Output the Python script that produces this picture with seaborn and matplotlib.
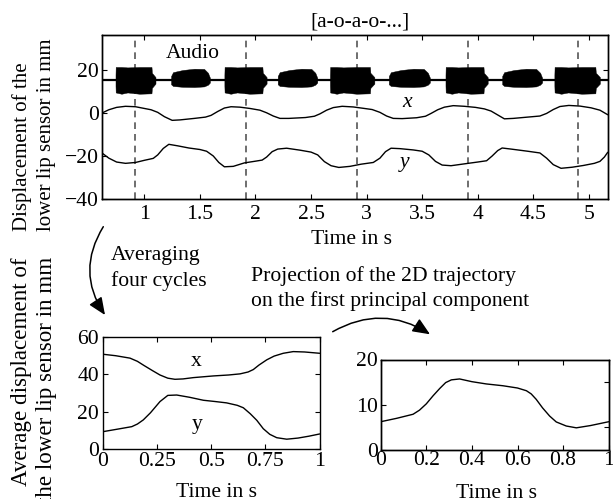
import numpy as np
import matplotlib
matplotlib.use("Agg")
import matplotlib.pyplot as plt
import seaborn as sns
from matplotlib.patches import FancyArrowPatch

# ---- data ----
# top panel: raw lip sensor trajectories (time in s, displacement in mm)
lip_t = [0.623, 0.68, 0.75, 0.83, 0.92, 1.00, 1.06, 1.12, 1.18, 1.25, 1.32, 1.45, 1.55, 1.60,
         1.66, 1.72, 1.78, 1.86, 1.95, 2.04, 2.10, 2.16, 2.22, 2.30, 2.45, 2.53, 2.58, 2.64,
         2.70, 2.78, 2.88, 2.98, 3.05, 3.12, 3.18, 3.24, 3.32, 3.45, 3.53, 3.58, 3.64, 3.70,
         3.78, 3.88, 3.98, 4.06, 4.12, 4.18, 4.24, 4.32, 4.45, 4.56, 4.62, 4.68, 4.74, 4.82,
         4.92, 5.02, 5.10, 5.17]
lip_x = [0.0, 1.4, 2.5, 3.0, 2.8, 2.0, 1.4, 0.2, -1.8, -3.5, -3.3, -2.6, -2.0, -1.2,
         0.6, 2.2, 2.8, 2.6, 2.0, 1.2, 0.0, -1.5, -2.6, -2.6, -2.2, -1.6, -0.5, 1.2,
         2.4, 3.0, 2.7, 2.0, 1.5, 0.2, -1.5, -2.6, -2.7, -2.3, -1.6, -0.3, 1.4, 2.6,
         3.3, 3.0, 2.5, 1.8, 0.8, -1.0, -2.8, -2.6, -2.0, -1.5, -0.3, 1.5, 2.9, 3.4,
         3.1, 2.3, 1.2, -0.9]

lip_ty = [0.623, 0.68, 0.75, 0.83, 0.92, 1.00, 1.08, 1.12, 1.17, 1.22, 1.30, 1.40, 1.50, 1.56,
          1.62, 1.67, 1.72, 1.80, 1.90, 2.00, 2.06, 2.10, 2.15, 2.20, 2.28, 2.40, 2.50, 2.56,
          2.62, 2.68, 2.75, 2.85, 2.95, 3.06, 3.12, 3.17, 3.22, 3.30, 3.42, 3.50, 3.56, 3.62,
          3.68, 3.76, 3.90, 4.00, 4.08, 4.13, 4.18, 4.22, 4.30, 4.45, 4.56, 4.62, 4.68, 4.75,
          4.85, 4.95, 5.05, 5.10, 5.14, 5.17]
lip_y = [-18.8, -21.0, -22.8, -23.4, -23.0, -22.0, -21.1, -19.5, -16.5, -14.6, -15.3, -16.3, -17.0, -17.8,
         -20.0, -23.0, -25.0, -24.8, -23.2, -22.4, -21.9, -20.5, -18.0, -16.8, -16.4, -17.3, -18.2, -19.5,
         -22.6, -24.5, -25.3, -24.8, -23.8, -23.0, -21.0, -18.0, -16.4, -16.6, -17.2, -17.8, -19.5, -22.5,
         -24.2, -24.5, -23.5, -22.8, -22.2, -20.0, -17.5, -16.3, -16.8, -17.8, -18.6, -21.0, -24.0, -25.7,
         -25.2, -24.4, -23.4, -22.5, -20.5, -18.3]

cycle_marks = [0.915, 1.915, 2.91, 3.91, 4.905]

# audio bursts: onset, offset, vowel
audio_on = [0.74, 1.24, 1.72, 2.20, 2.67, 3.20, 3.71, 4.22, 4.69]
audio_off = [1.10, 1.59, 2.10, 2.556, 3.07, 3.57, 4.09, 4.58, 5.10]
audio_kind = ["a", "o", "a", "o", "a", "o", "a", "o", "a"]
audio_base = 15.0
# envelope of each vowel: fraction of burst, upper, lower
env_frac = {"a": [0.0, 0.005, 0.15, 0.30, 0.60, 0.90, 0.91, 1.0],
            "o": [0.0, 0.05, 0.30, 0.60, 0.85, 0.95, 1.0, 1.0]}
env_up = {"a": [17.5, 21.2, 21.2, 21.0, 21.2, 21.2, 18.5, 16.5],
          "o": [17.0, 18.8, 19.8, 20.4, 20.3, 18.5, 16.2, 16.2]}
env_lo = {"a": [12.5, 9.4, 8.8, 9.4, 8.8, 9.0, 11.5, 13.5],
          "o": [13.2, 12.4, 12.0, 11.9, 12.2, 13.0, 14.0, 14.0]}

# bottom left: averaged cycle
avg_t = [0.00, 0.06, 0.126, 0.16, 0.19, 0.23, 0.264, 0.30, 0.333, 0.37, 0.418, 0.51, 0.58,
         0.633, 0.67, 0.694, 0.72, 0.756, 0.79, 0.832, 0.878, 0.93, 1.00]
avg_x = [50.8, 50.0, 48.7, 47.0, 44.8, 42.0, 39.7, 38.0, 37.4, 37.6, 38.3, 39.2, 39.7,
         40.3, 41.3, 42.6, 45.0, 47.8, 49.8, 51.3, 52.2, 52.0, 51.3]
avg_ty = [0.00, 0.07, 0.134, 0.16, 0.187, 0.22, 0.264, 0.30, 0.341, 0.40, 0.464, 0.52, 0.571,
          0.62, 0.648, 0.68, 0.71, 0.74, 0.77, 0.802, 0.848, 0.90, 0.95, 1.00]
avg_y = [9.4, 10.8, 12.1, 13.5, 15.7, 19.5, 25.5, 28.8, 29.0, 27.8, 26.2, 25.5, 24.8,
         23.5, 22.2, 19.0, 15.5, 11.0, 8.0, 6.2, 5.4, 6.0, 7.0, 8.2]

# bottom right: projection on first principal component
pc_t = [0.00, 0.07, 0.142, 0.17, 0.20, 0.23, 0.259, 0.285, 0.31, 0.346, 0.40, 0.463, 0.536,
        0.60, 0.639, 0.66, 0.682, 0.71, 0.741, 0.77, 0.814, 0.858, 0.92, 1.00]
pc_v = [6.25, 7.0, 7.9, 8.8, 10.2, 12.0, 13.6, 14.9, 15.5, 15.7, 15.1, 14.6, 14.2,
        13.7, 13.1, 12.4, 11.2, 9.3, 7.5, 6.2, 5.3, 4.9, 5.4, 6.25]

top_xticks = [1, 1.5, 2, 2.5, 3, 3.5, 4, 4.5, 5]
top_xlabels = ["1", "1.5", "2", "2.5", "3", "3.5", "4", "4.5", "5"]
bl_xticks = [0, 0.25, 0.5, 0.75, 1]
bl_xlabels = ["0", "0.25", "0.5", "0.75", "1"]
br_xticks = [0, 0.2, 0.4, 0.6, 0.8, 1]
br_xlabels = ["0", "0.2", "0.4", "0.6", "0.8", "1"]

# ---- style ----
sns.set_style("ticks")
plt.rcParams["font.family"] = ["Liberation Serif", "DejaVu Serif"]
plt.rcParams.update({
    "font.size": 15.6,
    "axes.linewidth": 1.0,
    "axes.edgecolor": "black",
    "text.color": "black",
    "xtick.color": "black",
    "ytick.color": "black",
    "xtick.direction": "in",
    "ytick.direction": "in",
    "xtick.major.size": 3.5,
    "ytick.major.size": 3.5,
    "xtick.major.width": 0.8,
    "ytick.major.width": 0.8,
})

W, H = 613, 499
fig = plt.figure(figsize=(W / 100, H / 100), dpi=100)


def axes_px(left, top, right, bottom):
    return fig.add_axes([left / W, 1 - bottom / H, (right - left) / W, (bottom - top) / H])


def text_px(x, y, s, **kw):
    fig.text(x / W, 1 - y / H, s, **kw)


def style_ax(ax, xpad, ypad):
    ax.tick_params(top=True, right=True, direction="in", labelsize=15.6)
    ax.tick_params(axis="x", pad=xpad)
    ax.tick_params(axis="y", pad=ypad)
    for s in ax.spines.values():
        s.set_visible(True)
        s.set_color("black")


# ---- top panel ----
ax = axes_px(102.5, 35, 607.7, 199.2)
for d in cycle_marks:
    ax.axvline(d, color="#555555", lw=1.2, ls=(0, (4, 3)), zorder=1)
ax.axhline(audio_base, color="black", lw=1.6, zorder=2)
for on, off, k in zip(audio_on, audio_off, audio_kind):
    tt = on + np.array(env_frac[k]) * (off - on)
    ax.fill_between(tt, env_lo[k], env_up[k], color="black", lw=0.3, zorder=3)
sns.lineplot(x=lip_t, y=lip_x, ax=ax, color="black", lw=1.0, sort=False, estimator=None)
sns.lineplot(x=lip_ty, y=lip_y, ax=ax, color="black", lw=1.0, sort=False, estimator=None)
ax.set_xlim(0.623, 5.17)
ax.set_ylim(-40, 36)
ax.set_xticks(top_xticks)
ax.set_xticklabels(top_xlabels)
ax.set_yticks([-40, -20, 0, 20])
ax.set_xlabel("")
ax.set_ylabel("")
style_ax(ax, 4.5, 2.5)
ax.tick_params(right=False)
axr = ax.twinx()
axr.set_ylim(-40, 36)
axr.set_yticks([20])
axr.set_yticklabels([])
axr.tick_params(direction="in", length=3.5, width=0.8)
ax.text(1.44, 27.4, "Audio", ha="center", va="center")
ax.text(3.36, 4.6, "x", ha="center", va="center", style="italic")
ax.text(3.345, -23, "y", ha="center", va="center", style="italic")

# ---- bottom left panel ----
ax2 = axes_px(102.7, 337, 319.7, 449.3)
sns.lineplot(x=avg_t, y=avg_x, ax=ax2, color="black", lw=1.0, sort=False, estimator=None)
sns.lineplot(x=avg_ty, y=avg_y, ax=ax2, color="black", lw=1.0, sort=False, estimator=None)
ax2.set_xlim(0, 1)
ax2.set_ylim(0, 60)
ax2.set_xticks(bl_xticks)
ax2.set_xticklabels(bl_xlabels)
ax2.set_yticks([0, 20, 40, 60])
ax2.set_xlabel("")
ax2.set_ylabel("")
style_ax(ax2, 2.0, 2.5)
ax2.text(0.433, 46.8, "x", ha="center", va="center")
ax2.text(0.433, 13, "y", ha="center", va="center")

# ---- bottom right panel ----
ax3 = axes_px(380.7, 359.5, 608.7, 450)
sns.lineplot(x=pc_t, y=pc_v, ax=ax3, color="black", lw=1.0, sort=False, estimator=None)
ax3.set_xlim(0, 1)
ax3.set_ylim(0, 20)
ax3.set_xticks(br_xticks)
ax3.set_xticklabels(br_xlabels)
ax3.set_yticks([0, 10, 20])
ax3.set_xlabel("")
ax3.set_ylabel("")
style_ax(ax3, 1.0, 2.0)
ax3.tick_params(right=False)
ax3r = ax3.twinx()
ax3r.set_ylim(0, 20)
ax3r.set_yticks([5, 15])
ax3r.set_yticklabels([])
ax3r.tick_params(direction="in", length=3.5, width=0.8)

# ---- labels and annotations ----
text_px(360, 26, "[a-o-a-o-...]", ha="center", va="baseline")
text_px(352, 244.3, "Time in s", ha="center", va="baseline")
text_px(216.7, 496.7, "Time in s", ha="center", va="baseline")
text_px(496.3, 498.3, "Time in s", ha="center", va="baseline")

lab = dict(rotation=90, rotation_mode="anchor", va="baseline")
text_px(26.7, 231, "Displacement of the", ha="left", fontsize=15.0, **lab)
text_px(51.2, 231, "lower lip sensor in mm", ha="left", fontsize=15.0, **lab)
text_px(26.7, 257, "Average displacement of", ha="right", fontsize=16.6, **lab)
text_px(52.5, 257, "the lower lip sensor in mm", ha="right", fontsize=16.6, **lab)

text_px(111, 260, "Averaging", ha="left", va="baseline")
text_px(111, 285.7, "four cycles", ha="left", va="baseline")
text_px(251, 281, "Projection of the 2D trajectory", ha="left", va="baseline")
text_px(251, 306, "on the first principal component", ha="left", va="baseline")

arrow_kw = dict(transform=fig.transFigure, arrowstyle="-|>,head_length=0.7,head_width=0.3",
                mutation_scale=15, color="black", lw=1.1, shrinkA=0, shrinkB=0)
fig.patches.append(FancyArrowPatch((103.3 / W, 1 - 226.7 / H), (105 / W, 1 - 315 / H),
                                   connectionstyle="arc3,rad=0.32", **arrow_kw))
fig.patches.append(FancyArrowPatch((332.7 / W, 1 - 331.7 / H), (430 / W, 1 - 334.3 / H),
                                   connectionstyle="arc3,rad=-0.3", **arrow_kw))

fig.savefig("out.png", dpi=100)
